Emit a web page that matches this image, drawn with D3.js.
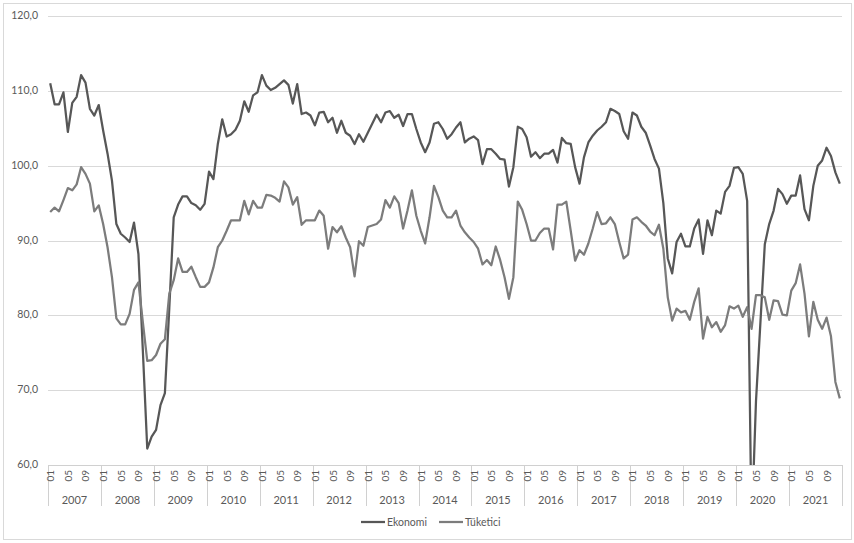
<!DOCTYPE html>
<html>
<head>
<meta charset="utf-8">
<script src="https://cdn.jsdelivr.net/npm/d3@7"></script>
<style>
  body { margin: 0; background: #fff; }
  svg { display: block; font-family: Lato, "Open Sans", sans-serif; }
</style>
</head>
<body>
<div id="chart"></div>
<script>
// monthly values, 2007-01 .. 2021-12
const years = ['2007', '2008', '2009', '2010', '2011', '2012', '2013', '2014', '2015', '2016', '2017', '2018', '2019', '2020', '2021']
const monthLabels = ['01', '02', '03', '04', '05', '06', '07', '08', '09', '10', '11', '12']
const shownMonths = ['01', '05', '09']
const yTicks = [60, 70, 80, 90, 100, 110, 120]

const ekonomi = [
    111.0, 108.2, 108.2, 109.8, 104.5, 108.4, 109.2, 112.1, 111.1, 107.6, 106.7, 108.1,
    104.7, 101.6, 98.0, 92.2, 90.9, 90.4, 89.8, 92.4, 88.2, 75.3, 62.2, 63.8,
    64.7, 68.0, 69.6, 81.0, 93.1, 94.8, 95.9, 95.9, 95.0, 94.7, 94.1, 94.9,
    99.2, 98.2, 102.9, 106.2, 103.9, 104.2, 104.8, 106.0, 108.6, 107.2, 109.4, 109.8,
    112.1, 110.7, 110.1, 110.4, 110.9, 111.4, 110.8, 108.3, 110.9, 106.9, 107.1, 106.7,
    105.4, 107.1, 107.2, 105.8, 106.4, 104.4, 106.0, 104.4, 104.0, 102.9, 104.2, 103.2,
    104.4, 105.6, 106.8, 105.8, 107.1, 107.3, 106.4, 106.8, 105.3, 106.9, 106.9, 104.9,
    103.1, 101.8, 103.1, 105.6, 105.8, 104.9, 103.6, 104.2, 105.1, 105.8, 103.1, 103.6,
    103.9, 103.4, 100.2, 102.2, 102.2, 101.6, 100.9, 100.8, 97.2, 99.8, 105.2, 104.9,
    103.8, 101.2, 101.8, 101.0, 101.6, 101.6, 102.1, 100.4, 103.7, 103.0, 102.9, 99.8,
    97.6, 101.1, 103.1, 104.0, 104.7, 105.2, 105.8, 107.6, 107.3, 106.9, 104.6, 103.6,
    107.1, 106.7, 105.2, 104.4, 102.7, 100.9, 99.6, 95.0, 87.6, 85.6, 89.8, 90.9,
    89.2, 89.2, 91.6, 92.8, 88.2, 92.7, 90.7, 94.0, 93.6, 96.5, 97.3, 99.7,
    99.8, 98.9, 95.3, 51.3, 68.5, 79.0, 89.5, 92.2, 94.0, 96.9, 96.2, 94.9,
    96.0, 96.0, 98.7, 94.2, 92.7, 97.3, 100.0, 100.7, 102.4, 101.3, 99.1, 97.6
]

const tuketici = [
    93.8, 94.4, 93.9, 95.4, 97.0, 96.7, 97.5, 99.8, 98.9, 97.6, 93.9, 94.7,
    92.2, 89.1, 85.1, 79.6, 78.8, 78.8, 80.2, 83.4, 84.4, 79.1, 73.9, 74.0,
    74.7, 76.2, 76.8, 82.9, 84.7, 87.6, 85.8, 85.8, 86.5, 85.1, 83.8, 83.8,
    84.4, 86.4, 89.1, 90.0, 91.3, 92.7, 92.7, 92.7, 95.3, 93.5, 95.3, 94.4,
    94.4, 96.1, 96.0, 95.7, 95.2, 97.9, 97.1, 94.8, 95.8, 92.1, 92.7, 92.7,
    92.7, 94.0, 93.3, 88.9, 91.8, 91.1, 91.9, 90.4, 89.1, 85.2, 89.9, 89.3,
    91.8, 92.0, 92.2, 92.8, 95.4, 94.4, 95.9, 95.0, 91.6, 94.0, 96.7, 93.3,
    91.3, 89.6, 93.1, 97.3, 95.8, 94.0, 93.1, 93.1, 94.0, 92.0, 91.1, 90.4,
    89.8, 88.9, 86.8, 87.4, 86.7, 89.2, 87.4, 85.1, 82.2, 85.1, 95.2, 94.1,
    92.2, 90.0, 90.0, 91.0, 91.6, 91.6, 88.8, 94.8, 94.8, 95.2, 91.3, 87.3,
    88.7, 88.1, 89.6, 91.6, 93.8, 92.2, 92.3, 93.1, 92.2, 89.8, 87.6, 88.1,
    92.8, 93.1, 92.5, 92.0, 91.2, 90.7, 92.1, 88.9, 82.4, 79.3, 80.9, 80.4,
    80.6, 79.4, 81.8, 83.6, 76.9, 79.8, 78.4, 79.1, 77.8, 78.7, 81.2, 80.9,
    81.3, 79.8, 81.1, 78.2, 82.7, 82.7, 82.4, 79.4, 82.0, 81.9, 80.1, 80.0,
    83.3, 84.3, 86.8, 82.9, 77.2, 81.8, 79.4, 78.2, 79.7, 77.2, 71.1, 68.9
]

const seriesNames = ['Ekonomi', 'Tüketici']
const seriesColors = ['#575757', '#7c7c7c']

const W = 854, H = 543
const plot = { left: 48, right: 842, top: 16, bottom: 465 }

const months = []
years.forEach(y => monthLabels.forEach(m => months.push({ year: y, month: m, key: y + '-' + m })))

const svg = d3.select('#chart').append('svg')
    .attr('width', W)
    .attr('height', H)

// chart frame
svg.append('rect')
    .attr('x', 3.5).attr('y', 3.5)
    .attr('width', 848).attr('height', 536)
    .attr('fill', '#fff')
    .attr('stroke', '#d9d9d9')

const x = d3.scaleBand().domain(months.map(d => d.key)).range([plot.left, plot.right]).padding(0)
const xMid = key => x(key) + x.bandwidth() / 2
const y = d3.scaleLinear().domain([60, 120]).range([plot.bottom, plot.top])
const fmt = v => d3.format('.1f')(v).replace('.', ',')

// grid
svg.append('g')
    .selectAll('line')
    .data(yTicks.filter(t => t > 60))
    .join('line')
    .attr('x1', plot.left).attr('x2', plot.right)
    .attr('y1', d => Math.round(y(d)) + 0.5).attr('y2', d => Math.round(y(d)) + 0.5)
    .attr('stroke', '#d9d9d9')

// y axis labels
svg.append('g')
    .selectAll('text')
    .data(yTicks)
    .join('text')
    .attr('x', 38)
    .attr('y', d => y(d))
    .attr('dy', '0.3em')
    .attr('text-anchor', 'end')
    .attr('font-size', 10.5)
    .attr('fill', '#595959')
    .text(fmt)

// x axis line + year separators
const axis = svg.append('g')
axis.append('line')
    .attr('x1', plot.left).attr('x2', plot.right)
    .attr('y1', plot.bottom + 0.5).attr('y2', plot.bottom + 0.5)
    .attr('stroke', '#d0d0d0')

const yearStart = yr => x(yr + '-01')
const bounds = years.map(yearStart).concat([plot.right])
axis.selectAll('line.sep')
    .data(bounds)
    .join('line')
    .attr('class', 'sep')
    .attr('x1', d => Math.round(d) + 0.5).attr('x2', d => Math.round(d) + 0.5)
    .attr('y1', plot.bottom).attr('y2', 506)
    .attr('stroke', '#d0d0d0')

axis.selectAll('text.month')
    .data(months.filter(d => shownMonths.includes(d.month)))
    .join('text')
    .attr('class', 'month')
    .attr('transform', d => `translate(${xMid(d.key) + 0.5},${plot.bottom + 5}) rotate(-90)`)
    .attr('text-anchor', 'end')
    .attr('dy', '0.35em')
    .attr('font-size', 10)
    .attr('fill', '#595959')
    .text(d => d.month)

axis.selectAll('text.year')
    .data(years)
    .join('text')
    .attr('class', 'year')
    .attr('x', d => yearStart(d) + x.bandwidth() * 6)
    .attr('y', 504)
    .attr('text-anchor', 'middle')
    .attr('font-size', 11)
    .attr('fill', '#595959')
    .text(d => d)

// lines
svg.append('clipPath').attr('id', 'plotClip')
    .append('rect')
    .attr('x', plot.left).attr('y', plot.top)
    .attr('width', plot.right - plot.left).attr('height', plot.bottom - plot.top)

const line = d3.line()
    .x((d, i) => xMid(months[i].key))
    .y(d => y(d))

const lines = svg.append('g').attr('clip-path', 'url(#plotClip)')
;[ekonomi, tuketici].forEach((vals, k) => {
    lines.append('path')
        .datum(vals)
        .attr('d', line)
        .attr('fill', 'none')
        .attr('stroke', seriesColors[k])
        .attr('stroke-width', 2.25)
        .attr('stroke-linejoin', 'round')
})

// legend
const legendX = [361, 439]
const legend = svg.append('g')
seriesNames.forEach((name, k) => {
    legend.append('line')
        .attr('x1', legendX[k]).attr('x2', legendX[k] + 24)
        .attr('y1', 522).attr('y2', 522)
        .attr('stroke', seriesColors[k])
        .attr('stroke-width', 2.25)
    legend.append('text')
        .attr('x', legendX[k] + 26)
        .attr('y', 522)
        .attr('dy', '0.35em')
        .attr('font-size', 10.5)
        .attr('fill', '#595959')
        .text(name)
})
</script>
</body>
</html>
